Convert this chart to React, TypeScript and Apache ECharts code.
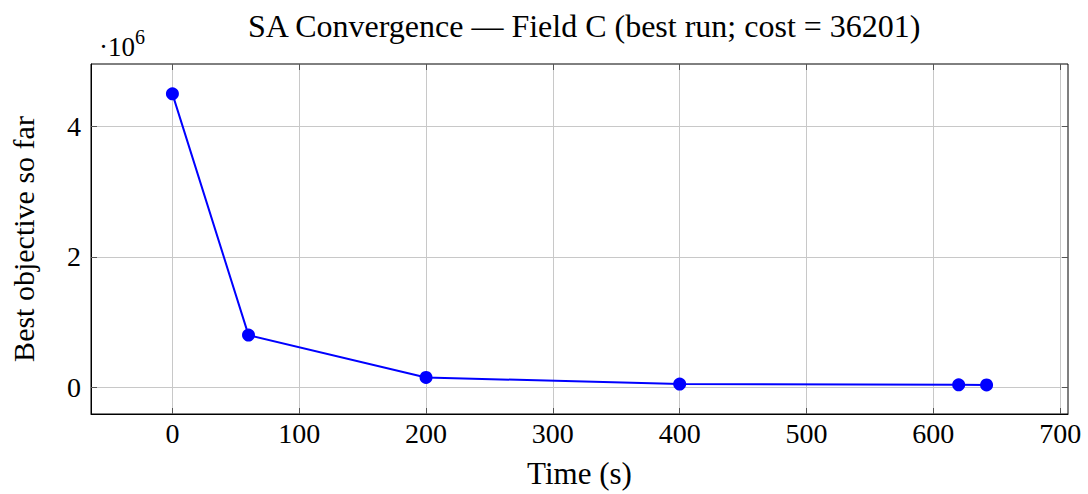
import React, { useEffect, useRef } from "react";
import * as echarts from "echarts";

const timeSeconds = [0, 60, 200, 400, 620, 642];
const bestObjective = [4500000, 800000, 150000, 50000, 37000, 36201];
const xTicks = [0, 100, 200, 300, 400, 500, 600, 700];
const yTicks = [0, 2, 4];

const FONT = "'Liberation Serif', 'DejaVu Serif', serif";

export default function App() {
  const ref = useRef<HTMLDivElement>(null);
  useEffect(() => {
    if (!ref.current) return;
    const chart = echarts.init(ref.current, undefined, { renderer: "svg" });
    const xMin = -64.2;
    const xMax = 706.2;
    const yMin = -410000;
    const yMax = 4958000;
    const yTickVals = yTicks.map((v) => v * 1e6);
    const tickStyle = { show: true, inside: true, length: 6, lineStyle: { color: "#555", width: 1 } };
    const gridLine = { show: true, lineStyle: { color: "#c8c8c8", width: 1 } };
    chart.setOption({
      animation: false,
      backgroundColor: "#fff",
      title: {
        text: "SA Convergence — Field C (best run; cost = 36201)",
        left: 243,
        top: 5,
        textStyle: { fontFamily: FONT, fontSize: 32, fontWeight: "normal", color: "#000" },
      },
      grid: {
        left: 89,
        right: 20,
        top: 64,
        bottom: 80,
        show: true,
        borderColor: "#000",
        borderWidth: 1,
      },
      graphic: [
        {
          type: "text",
          left: 99,
          top: 27,
          style: {
            text: "{a|·10}{b|6}",
            rich: {
              a: { fontFamily: FONT, fontSize: 27, fill: "#000", verticalAlign: "bottom" },
              b: { fontFamily: FONT, fontSize: 20, fill: "#000", padding: [0, 0, 13, 0] },
            },
          },
        },
      ],
      xAxis: [
        {
          type: "value",
          min: xMin,
          max: xMax,
          name: "Time (s)",
          nameLocation: "middle",
          nameGap: 44,
          nameTextStyle: { fontFamily: FONT, fontSize: 31, color: "#000" },
          axisLine: { show: true, onZero: false, lineStyle: { color: "#000" } },
          axisTick: { ...tickStyle, customValues: xTicks },
          axisLabel: {
            customValues: xTicks,
            fontFamily: FONT,
            fontSize: 28,
            color: "#000",
            margin: 5,
          },
          splitLine: gridLine,
        },
        {
          type: "value",
          position: "top",
          min: xMin,
          max: xMax,
          axisLine: { show: false, onZero: false },
          axisTick: { ...tickStyle, customValues: xTicks },
          axisLabel: { show: false, customValues: xTicks },
          splitLine: { show: false },
        },
      ],
      yAxis: [
        {
          type: "value",
          min: yMin,
          max: yMax,
          name: "Best objective so far",
          nameLocation: "middle",
          nameGap: 53,
          nameTextStyle: { fontFamily: FONT, fontSize: 30, color: "#000" },
          axisLine: { show: true, onZero: false, lineStyle: { color: "#000" } },
          axisTick: { ...tickStyle, customValues: yTickVals },
          axisLabel: {
            customValues: yTickVals,
            formatter: (v: number) => String(Math.round(v / 1e6)),
            fontFamily: FONT,
            fontSize: 28,
            color: "#000",
            margin: 10,
          },
          splitLine: gridLine,
        },
        {
          type: "value",
          position: "right",
          min: yMin,
          max: yMax,
          axisLine: { show: false, onZero: false },
          axisTick: { ...tickStyle, customValues: yTickVals },
          axisLabel: { show: false, customValues: yTickVals },
          splitLine: { show: false },
        },
      ],
      series: [
        {
          type: "line",
          xAxisIndex: 0,
          yAxisIndex: 0,
          data: timeSeconds.map((t, i) => [t, bestObjective[i]]),
          lineStyle: { color: "#0000ff", width: 2 },
          itemStyle: { color: "#0000ff" },
          symbol: "circle",
          symbolSize: 13,
        },
      ],
    });
    return () => chart.dispose();
  }, []);
  return <div ref={ref} style={{ position: "fixed", left: 0, top: 0, width: 1088, height: 494 }} />;
}
